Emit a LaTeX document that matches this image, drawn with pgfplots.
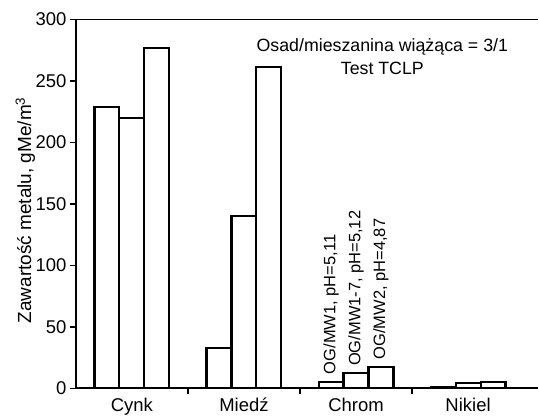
\documentclass[border=0pt]{standalone}
\usepackage{fontspec}
\setmainfont{Liberation Sans}
\usepackage{pgfplots}
\pgfplotsset{compat=1.18}
\begin{document}
\begin{tikzpicture}
\begin{axis}[
  scale only axis, width=463pt, height=369.5pt,
  xmin=-0.5, xmax=3.625, ymin=0, ymax=300,
  ybar=0pt, bar width=25pt,
  axis x line=box, axis y line=left,
  axis line style={line width=1.8pt,-},
  xtick={0.5,1.5,2.5}, xticklabels={},
  extra x ticks={0,1,2,3},
  extra x tick labels={Cynk,Miedź,Chrom,Nikiel},
  extra x tick style={major tick length=0pt},
  ytick={0,50,...,300},
  tick align=outside, xtick pos=bottom, ytick pos=left,
  major tick length=6pt,
  tick style={line width=1.5pt, black},
  ticklabel style={font=\fontsize{18.5}{22}\selectfont},
  xticklabel style={inner sep=0pt, yshift=-9.5pt},
  /pgf/number format/assume math mode=true,
  ylabel={Zawartość metalu, gMe/m\textsuperscript{3}},
  every axis y label/.style={at={(ticklabel cs:0.483)}, rotate=90, anchor=near ticklabel, inner sep=0pt},
  ylabel shift=-3pt,
  ylabel style={font=\fontsize{19}{22}\selectfont},
  cycle list={{draw=black, fill=white, line width=2.1pt}},
  clip=false,
]
\addplot[draw=black, fill=white, line width=2.1pt] coordinates {(0,229) (1,32.5) (2,5) (3,1.4)};
\addplot[draw=black, fill=white, line width=2.1pt] coordinates {(0,220) (1,140) (2,12.7) (3,4)};
\addplot[draw=black, fill=white, line width=2.1pt] coordinates {(0,276.5) (1,261) (2,17) (3,5)};
\node[align=center, font=\fontsize{17.8}{23}\selectfont] at (rel axis cs:0.663,0.9) {Osad/mieszanina wiążąca = 3/1\\Test TCLP};
\node[rotate=90, anchor=west, inner sep=0pt, font=\fontsize{16.5}{20}\selectfont] at (axis cs:1.777,11.4) {OG/MW1, pH=5,11};
\node[rotate=90, anchor=west, inner sep=0pt, font=\fontsize{16.5}{20}\selectfont] at (axis cs:2,18.1) {OG/MW1-7, pH=5,12};
\node[rotate=90, anchor=west, inner sep=0pt, font=\fontsize{16.5}{20}\selectfont] at (axis cs:2.2227,23.5) {OG/MW2, pH=4,87};
\end{axis}
\path (current axis.south west) ++(-76pt,-30pt);
\path (current axis.north east) ++(0pt,19.5pt);
\end{tikzpicture}
\end{document}
